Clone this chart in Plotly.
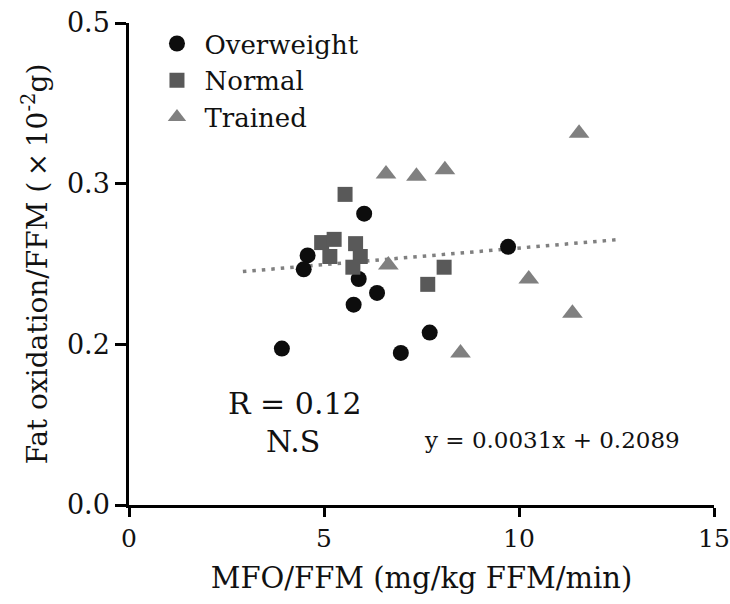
import plotly.graph_objects as go

# MFO/FFM (mg/kg FFM/min) and fat oxidation/FFM for each group
overweight_x = [6.03, 4.58, 4.48, 5.89, 6.36, 5.76, 3.92, 6.97, 7.71, 9.72]
overweight_y = [0.272, 0.233, 0.220, 0.211, 0.198, 0.187, 0.146, 0.142, 0.161, 0.241]

normal_x = [5.54, 4.94, 5.26, 5.15, 5.81, 5.93, 5.74, 8.08, 7.66]
normal_y = [0.290, 0.245, 0.248, 0.232, 0.244, 0.232, 0.222, 0.222, 0.206]

trained_x = [6.59, 7.37, 8.10, 6.65, 10.25, 11.37, 11.54, 8.50]
trained_y = [0.309, 0.307, 0.313, 0.224, 0.211, 0.179, 0.347, 0.142]

# linear trend over all subjects
slope = 0.0031
intercept = 0.2089
r_value = 0.12

y_tickvals = [0.0, 0.15, 0.30, 0.45]
y_ticktext = ["0.0", "0.2", "0.3", "0.5"]
x_tickvals = [0, 5, 10, 15]

FONT = "DejaVu Serif"

all_x = overweight_x + normal_x + trained_x
trend_x = [min(all_x) - 1, max(all_x) + 1]
trend_y = [slope * v + intercept for v in trend_x]

fig = go.Figure()

fig.add_trace(go.Scatter(
    x=trend_x, y=trend_y, mode="lines",
    line=dict(color="#808080", width=3.5, dash="3.5px,6px"),
    showlegend=False, hoverinfo="skip",
))

fig.add_trace(go.Scatter(
    x=overweight_x, y=overweight_y, mode="markers", name="Overweight",
    legendgroup="ow",
    marker=dict(symbol="circle", size=16, color="#0d0d0d"),
))
fig.add_trace(go.Scatter(
    x=normal_x, y=normal_y, mode="markers", name="Normal",
    legendgroup="nm",
    marker=dict(symbol="square", size=15, color="#595959"),
))
fig.add_trace(go.Scatter(
    x=trained_x, y=trained_y, mode="markers", name="Trained",
    legendgroup="tr",
    marker=dict(symbol="triangle-up", size=18, color="#808080"),
))

fig.add_annotation(x=4.25, y=0.095, text=f"R = {r_value:.2f}", showarrow=False,
                   font=dict(family=FONT, size=30, color="#111111"))
fig.add_annotation(x=4.2, y=0.059, text="N.S", showarrow=False,
                   font=dict(family=FONT, size=30, color="#111111"))
fig.add_annotation(x=10.85, y=0.061,
                   text=f"y = {slope:.4f}x + {intercept:.4f}", showarrow=False,
                   font=dict(family=FONT, size=23, color="#111111"))

fig.update_layout(
    width=730, height=604,
    margin=dict(l=129, r=16, t=23, b=99, autoexpand=False),
    plot_bgcolor="white", paper_bgcolor="white",
    font=dict(family=FONT, size=26, color="#111111"),
    showlegend=True,
    legend=dict(x=0.035, y=1.006, xanchor="left", yanchor="top",
                bgcolor="rgba(0,0,0,0)", tracegroupgap=0, itemwidth=45,
                font=dict(family=FONT, size=26)),
    xaxis=dict(
        range=[0, 15], tickvals=x_tickvals, showgrid=False, zeroline=False,
        automargin=False,
        showline=True, linecolor="black", linewidth=2.5,
        ticks="outside", ticklen=9, tickwidth=2.5, tickcolor="black",
        ticklabeloverflow="allow",
        tickfont=dict(family=FONT, size=25),
        title=dict(text="MFO/FFM (mg/kg FFM/min)", standoff=16,
                   font=dict(family=FONT, size=29)),
    ),
    yaxis=dict(
        range=[0, 0.45], tickvals=y_tickvals, ticktext=y_ticktext,
        showgrid=False, zeroline=False, automargin=False,
        showline=True, linecolor="black", linewidth=2.5,
        ticks="outside", ticklen=11, tickwidth=2.5, tickcolor="black",
        tickfont=dict(family=FONT, size=27),
        title=dict(text="Fat oxidation/FFM (\u2009\u00d7\u200910<sup>-2</sup>g)",
                   standoff=12, font=dict(family=FONT, size=28)),
    ),
)

fig.write_html("out.html")
